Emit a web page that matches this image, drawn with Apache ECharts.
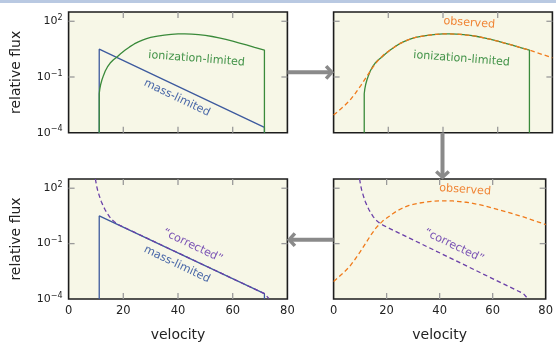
<!DOCTYPE html>
<html><head><meta charset="utf-8">
<script src="https://cdn.jsdelivr.net/npm/echarts@6/dist/echarts.min.js"></script>
<style>html,body{margin:0;padding:0;background:#fff}#c{width:556px;height:343px}</style>
</head><body><div id="c"></div>
<script>
// ---- data (velocity in km/s, flux as log10 of relative flux) ----
const xTickValues = [0, 20, 40, 60, 80];
const yTickExponents = [-4, -1, 2];
const yMinExp = -4, yMaxExp = 2.5;
const xMin = 0, xMax = 80;

const ionV       = [11.2, 11.4, 11.7, 12.2, 12.8, 13.4, 14.2, 15.2, 16.4, 17.7, 19, 20.7, 22.3, 24, 25.5, 27, 28.5, 30, 32.5, 35, 37.5, 40, 42.5, 45, 47.5, 50, 52.5, 55, 57.5, 60, 62.5, 65, 68, 71.6];
const ionLogFlux = [-1.9, -1.65, -1.42, -1.15, -0.9, -0.68, -0.46, -0.25, -0.07, 0.08, 0.25, 0.45, 0.62, 0.78, 0.89, 0.99, 1.07, 1.13, 1.2, 1.26, 1.3, 1.32, 1.32, 1.31, 1.28, 1.24, 1.18, 1.11, 1.02, 0.93, 0.83, 0.73, 0.6, 0.45];

const massV       = [11.2, 71.6];
const massLogFlux = [0.5, -3.71];

const obsV       = [0, 2, 4, 6, 8, 10, 12, 14, 16, 17.3, 18.5, 20.7, 22.3, 24, 25.5, 27, 28.5, 30, 32.5, 35, 37.5, 40, 42.5, 45, 47.5, 50, 52.5, 55, 57.5, 60, 62.5, 65, 68, 71.6, 74, 77, 80];
const obsLogFlux = [-3.05, -2.8, -2.54, -2.25, -1.87, -1.45, -1.0, -0.55, -0.15, 0.05, 0.22, 0.45, 0.62, 0.78, 0.89, 0.99, 1.07, 1.13, 1.2, 1.26, 1.3, 1.32, 1.32, 1.31, 1.28, 1.24, 1.18, 1.11, 1.02, 0.93, 0.83, 0.73, 0.6, 0.45, 0.33, 0.18, 0.03];

const corrV       = [9.8, 10.2, 10.6, 11.2, 11.9, 12.6, 13.4, 14.2, 15, 16, 17, 18, 19, 71.6, 73.2];
const corrLogFlux = [2.5, 2.15, 1.9, 1.6, 1.3, 1.06, 0.82, 0.62, 0.45, 0.28, 0.15, 0.05, -0.03, -3.71, -3.97];

const labels = {
  ion:  {text: 'ionization-limited', v: 46.8, f: -0.02},
  mass: {text: 'mass-limited', v: 39.6, f: -2.13},
  obs:  {text: 'observed', v: 49.6, f: 1.91},
  corr: {text: '\u201Ccorrected\u201D', v: 45.4, f: -1.12}
};

// ---- styles / layout ----
const FONT = 'DejaVu Sans';
const C = {blue: '#3d5a9e', green: '#3a8a3a', orange: '#f07b1c', purple: '#6a3fa8',
           blueT: '#4a68a8', greenT: '#44944a', orangeT: '#f08434', purpleT: '#7a52b4'};
const grids = [
  {left: 68.6, top: 12, width: 218.8, height: 120.7},   // TL
  {left: 333.6, top: 12, width: 218.8, height: 120.7},  // TR
  {left: 333.6, top: 179, width: 218.8, height: 121.3}, // BR
  {left: 68.6, top: 179, width: 218.8, height: 121.3}   // BL
];
const showXLab = [false, false, true, true];
const showYLab = [true, false, false, true];
const TICK_LEN = 6, TICK_COLOR = '#9a9a9a';

const pts = (xs, ys) => xs.map((x, i) => [x, ys[i]]);

const xAxis = [], yAxis = [];
grids.forEach((g, gi) => {
  ['bottom', 'top'].forEach((pos, k) => {
    xAxis.push({
      gridIndex: gi, type: 'value', min: xMin, max: xMax, interval: 20, position: pos,
      axisLine: {show: false, onZero: false}, splitLine: {show: false},
      axisTick: {show: false},
      axisLabel: {show: k === 0 && showXLab[gi], fontFamily: FONT, fontSize: 11.5, color: '#222', margin: 6},
      name: (k === 0 && showXLab[gi]) ? 'velocity' : '',
      nameLocation: 'middle', nameGap: 29,
      nameTextStyle: {fontFamily: FONT, fontSize: 14, color: '#222'}
    });
  });
  ['left', 'right'].forEach((pos, k) => {
    yAxis.push({
      gridIndex: gi, type: 'value', min: yMinExp, max: yMaxExp, position: pos,
      axisLine: {show: false, onZero: false}, splitLine: {show: false},
      axisTick: {show: false},
      axisLabel: {
        show: k === 0 && showYLab[gi], customValues: yTickExponents, margin: 6,
        formatter: v => '{b|10}{s|' + (v < 0 ? '\u2212' + (-v) : v) + '}',
        rich: {
          b: {fontFamily: FONT, fontSize: 11, color: '#222', lineHeight: 15},
          s: {fontFamily: FONT, fontSize: 8, color: '#222', verticalAlign: 'top', lineHeight: 9}
        }
      },
      name: (k === 0 && showYLab[gi]) ? 'relative flux' : '',
      nameLocation: 'middle', nameGap: 45,
      nameTextStyle: {fontFamily: FONT, fontSize: 14, color: '#222'}
    });
  });
});

function mp(lab, color, rot) {
  return {
    silent: true, symbol: 'circle', symbolSize: 0, animation: false,
    data: [{coord: [lab.v, lab.f],
      label: {show: true, position: 'inside', formatter: lab.text, rotate: rot,
              fontFamily: FONT, fontSize: 11.2, color: color}}]
  };
}
function ser(gi, data, color, opts) {
  return Object.assign({
    type: 'line', xAxisIndex: 2 * gi, yAxisIndex: 2 * gi, data: data,
    showSymbol: false, symbol: 'none', animation: false, silent: true,
    lineStyle: {color: color, width: 1.3}, clip: true
  }, opts || {});
}
const dash = {type: [4.5, 3], width: 1.3};

function ionSeries(gi, withLabel) {
  const n = ionV.length - 1;
  const data = [[ionV[0], yMinExp]].concat(pts(ionV, ionLogFlux), [[ionV[n], yMinExp]]);
  return [ser(gi, data, C.green, withLabel ? {markPoint: mp(labels.ion, C.greenT, -4.5)} : {})];
}
function massSeries(gi) {
  const n = massV.length - 1;
  return [ser(gi, [[massV[0], yMinExp]].concat(pts(massV, massLogFlux), [[massV[n], yMinExp]]), C.blue,
      {markPoint: mp(labels.mass, C.blueT, -25.5)})];
}
function obsSeries(gi) {
  return [ser(gi, pts(obsV, obsLogFlux), C.orange, {
      lineStyle: Object.assign({color: C.orange}, dash), markPoint: mp(labels.obs, C.orangeT, -4)})];
}
function corrSeries(gi) {
  return [ser(gi, pts(corrV, corrLogFlux), C.purple, {
      lineStyle: Object.assign({color: C.purple}, dash), markPoint: mp(labels.corr, C.purpleT, -25.5)})];
}

const series = [].concat(
  massSeries(0), ionSeries(0, true),
  ionSeries(1, true), obsSeries(1),
  obsSeries(2), corrSeries(2),
  massSeries(3), corrSeries(3)
);

// arrows between panels (decoration), derived from grid layout
const gray = '#8a8a8a';
const TL = grids[0], TR = grids[1], BR = grids[2], BL = grids[3];
const y1 = TL.top + TL.height / 2;
const x2 = TR.left + TR.width / 2 - 0.5;
const y3 = BL.top + BL.height / 2;
const tlRight = TL.left + TL.width, trBottom = TR.top + TR.height;
const baseGraphic = [
  {type: 'rect', shape: {x: 0, y: 0, width: 556, height: 3}, style: {fill: '#b9c9e2'}, silent: true},
  {type: 'line', shape: {x1: tlRight, y1: y1, x2: TR.left - 1.5, y2: y1}, style: {stroke: gray, lineWidth: 4}, z: 100},
  {type: 'polyline', shape: {points: [[TR.left - 7.5, y1 - 6.3], [TR.left - 1.8, y1], [TR.left - 7.5, y1 + 6.3]]},
   style: {stroke: gray, lineWidth: 3.5, fill: null}, z: 100},
  {type: 'line', shape: {x1: x2, y1: trBottom, x2: x2, y2: BR.top - 1.5}, style: {stroke: gray, lineWidth: 4}, z: 100},
  {type: 'polyline', shape: {points: [[x2 - 6.3, BR.top - 7.5], [x2, BR.top - 1.8], [x2 + 6.3, BR.top - 7.5]]},
   style: {stroke: gray, lineWidth: 3.5, fill: null}, z: 100},
  {type: 'line', shape: {x1: BR.left, y1: y3, x2: tlRight + 1.5, y2: y3}, style: {stroke: gray, lineWidth: 4}, z: 100},
  {type: 'polyline', shape: {points: [[tlRight + 7.5, y3 - 6.3], [tlRight + 1.8, y3], [tlRight + 7.5, y3 + 6.3]]},
   style: {stroke: gray, lineWidth: 3.5, fill: null}, z: 100}
];

const chart = echarts.init(document.getElementById('c'), null, {renderer: 'canvas'});
chart.setOption({
  animation: false,
  backgroundColor: '#ffffff',
  grid: grids.map(g => Object.assign({show: true, backgroundColor: '#f7f7e7', borderColor: '#1c1c1c', borderWidth: 1.6}, g)),
  xAxis: xAxis, yAxis: yAxis, series: series, graphic: baseGraphic
});

// inside tick marks on all four sides, placed through the axes' own scales
const tickEls = [];
const tickLine = (xa, ya, xb, yb) => tickEls.push({type: 'line', silent: true, z: 50,
  shape: {x1: xa, y1: ya, x2: xb, y2: yb}, style: {stroke: TICK_COLOR, lineWidth: 1.3}});
grids.forEach((g, gi) => {
  const finder = {xAxisIndex: 2 * gi, yAxisIndex: 2 * gi};
  const yBot = chart.convertToPixel(finder, [xMin, yMinExp])[1];
  const yTop = chart.convertToPixel(finder, [xMin, yMaxExp])[1];
  const xLeft = chart.convertToPixel(finder, [xMin, yMinExp])[0];
  const xRight = chart.convertToPixel(finder, [xMax, yMinExp])[0];
  xTickValues.filter(v => v > xMin && v < xMax).forEach(v => {
    const px = chart.convertToPixel(finder, [v, yMinExp])[0];
    tickLine(px, yBot, px, yBot - TICK_LEN);
    tickLine(px, yTop, px, yTop + TICK_LEN);
  });
  yTickExponents.filter(v => v > yMinExp && v < yMaxExp).forEach(v => {
    const py = chart.convertToPixel(finder, [xMin, v])[1];
    tickLine(xLeft, py, xLeft + TICK_LEN, py);
    tickLine(xRight, py, xRight - TICK_LEN, py);
  });
});
chart.setOption({graphic: baseGraphic.concat(tickEls)});
</script></body></html>
